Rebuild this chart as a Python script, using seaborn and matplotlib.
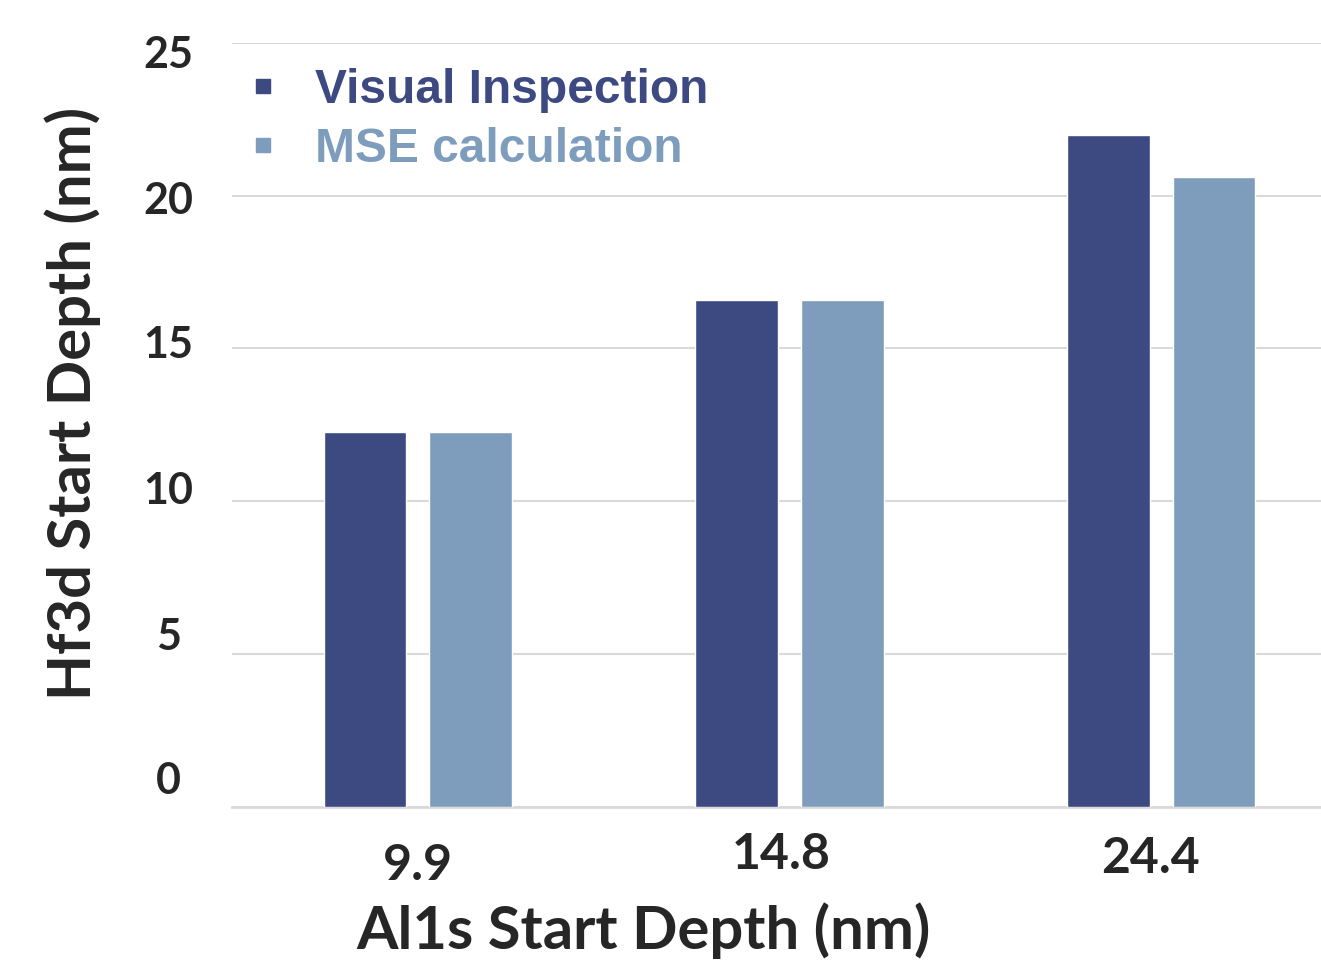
import numpy as np
import pandas as pd
import matplotlib
matplotlib.use("Agg")
import matplotlib.pyplot as plt
import matplotlib.transforms as mtransforms
from matplotlib.lines import Line2D
import seaborn as sns

# data
depths = ["9.9", "14.8", "24.4"]
visual = [12.25, 16.6, 22.0]
mse = [12.25, 16.6, 20.6]
series = ["Visual Inspection", "MSE calculation"]
colors = ["#3d4a82", "#7e9dbc"]
yticks = [0, 5, 10, 15, 20, 25]

df = pd.DataFrame({
    "depth": depths * 2,
    "value": visual + mse,
    "method": [series[0]] * 3 + [series[1]] * 3,
})

sns.set_style("white")
plt.rcParams['font.family'] = ['Lato', 'DejaVu Sans']
plt.rcParams['font.weight'] = 'bold'

fig = plt.figure(figsize=(13.21, 9.61), dpi=100)
ax = fig.add_axes([232 / 1321, 1 - 806.5 / 961, 1 - 232 / 1321, (806.5 - 43) / 961])

sns.barplot(data=df, x="depth", y="value", hue="method", palette=colors,
            width=0.57, gap=0.22, saturation=1, ax=ax, legend=False, zorder=3)

ax.set_ylim(0, 25)
ax.set_xlim(-0.5, 2.43)
ax.set_yticks(yticks)
ax.yaxis.grid(True, color="#d9d9d9", linewidth=1.5, zorder=0)
ax.set_axisbelow(True)
for s in ["left", "right", "top"]:
    ax.spines[s].set_visible(False)
ax.spines["bottom"].set_color("#d9d9d9")
ax.spines["bottom"].set_linewidth(2)
ax.tick_params(axis="both", length=0)
ax.tick_params(axis="y", pad=46, labelsize=31, labelcolor="#262626")
ax.tick_params(axis="x", pad=20, labelsize=36, labelcolor="#262626")

# excel-style label placement (pixel shifts)
y_shift = [29, 20, 14, 7, -2, -8]
for lab, dy in zip(ax.get_yticklabels(), y_shift):
    lab.set_fontweight("bold")
    lab.set_horizontalalignment("center")
    lab.set_transform(lab.get_transform() + mtransforms.ScaledTranslation(0, dy / 100, fig.dpi_scale_trans))
x_shift = [(0, -9), (-8, 2), (-11, -2)]
for lab, (dx, dy) in zip(ax.get_xticklabels(), x_shift):
    lab.set_fontweight("bold")
    lab.set_transform(lab.get_transform() + mtransforms.ScaledTranslation(dx / 100, dy / 100, fig.dpi_scale_trans))

ax.set_xlabel("Al1s Start Depth (nm)", fontsize=43, fontweight="bold", color="#262626", labelpad=14)
ax.xaxis.set_label_coords(0.378, -0.125)
ax.set_ylabel("Hf3d Start Depth (nm)", fontsize=43, fontweight="bold", color="#262626")
ax.yaxis.set_label_coords(-0.12, 0.528)

handles = [Line2D([], [], marker="s", linestyle="none", markersize=10.5, color=c) for c in colors]
leg = ax.legend(handles, series, loc="upper left", bbox_to_anchor=(0.0, 0.993), frameon=False,
                prop={"family": "Liberation Sans", "weight": "bold", "size": 34.5},
                handlelength=0.5, handletextpad=0.83, labelspacing=0.3, borderaxespad=0)
for t, c in zip(leg.get_texts(), colors):
    t.set_color(c)

fig.savefig("out.png", dpi=100)
